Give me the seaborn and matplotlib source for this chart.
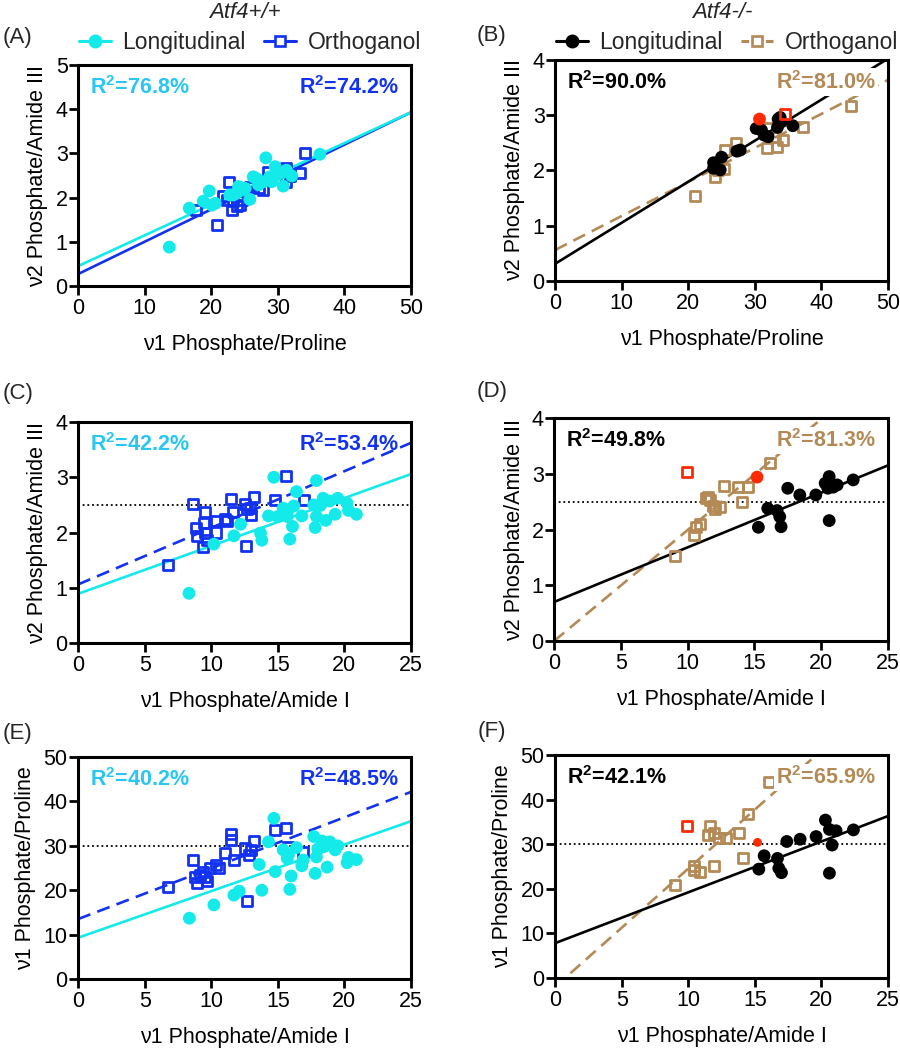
import numpy as np
import matplotlib
matplotlib.use("Agg")
import matplotlib.pyplot as plt
from matplotlib.lines import Line2D
import seaborn as sns

# ── colours ───────────────────────────────────────────────
CYAN = "#14EAEA"
CYAN_TXT = "#28C6F2"
BLUE = "#1232F0"
BROWN = "#B38A56"
RED = "#FF2A00"
BLACK = "#000000"

# ── data: Atf4+/+ ─────────────────────────────────────────
# (A) v1 Phosphate/Proline vs v2 Phosphate/Amide III
a_long_x = [13.7, 16.7, 18.8, 19.7, 20.6, 20.1, 23.3, 24.1, 25.8, 25.1, 26.3, 27.1,
            28.2, 28.8, 29.6, 29.8, 30.8, 31.3, 32.1, 36.3, 22.8, 29.1, 27.8, 23.8,
            26.8, 24.6, 30.5]
a_long_y = [0.88, 1.76, 1.92, 2.15, 1.87, 1.83, 2.06, 2.25, 1.96, 2.21, 2.47, 2.29,
            2.90, 2.47, 2.70, 2.51, 2.26, 2.62, 2.49, 2.98, 2.06, 2.36, 2.36, 2.10,
            2.43, 2.17, 2.55]
a_orth_x = [20.8, 17.7, 22.6, 23.1, 21.8, 22.3, 23.8, 24.6, 24.3, 34.1, 33.4, 31.2,
            28.6, 27.8, 27.1, 31.3, 25.8, 25.3, 23.3, 31.8]
a_orth_y = [1.38, 1.73, 2.35, 1.73, 2.04, 1.95, 1.81, 1.95, 1.83, 3.00, 2.55, 2.66,
            2.59, 2.17, 2.21, 2.36, 2.24, 2.13, 1.92, 2.48]

# (C) v1 Phosphate/Amide I vs v2 Phosphate/Amide III
c_long_x = [8.33, 10.2, 11.7, 12.2, 13.7, 13.8, 14.3, 14.7, 15.0, 15.7, 15.4, 15.9,
            16.1, 16.4, 16.2, 16.8, 17.8, 17.9, 17.9, 17.7, 18.4, 18.6, 18.9, 19.3,
            19.5, 20.2, 20.3, 20.9, 18.2, 15.8]
c_long_y = [0.90, 1.79, 1.94, 2.15, 1.99, 1.86, 2.30, 3.00, 2.29, 2.29, 2.44, 1.88,
            2.11, 2.74, 2.48, 2.30, 2.09, 2.94, 2.29, 2.50, 2.62, 2.22, 2.57, 2.33,
            2.62, 2.53, 2.40, 2.33, 2.49, 2.41]
c_orth_x = [6.78, 8.66, 8.86, 8.90, 9.41, 9.53, 9.48, 9.53, 9.66, 10.36, 10.36, 11.0,
            11.2, 11.5, 11.6, 12.6, 12.5, 12.7, 13.0, 13.2, 12.9, 14.8, 15.6, 17.0]
c_orth_y = [1.41, 2.51, 2.09, 1.93, 1.74, 2.37, 2.17, 1.99, 1.87, 2.21, 2.00, 2.25,
            2.21, 2.60, 2.37, 1.76, 2.51, 2.42, 2.32, 2.65, 2.44, 2.59, 3.02, 2.59]

# (E) v1 Phosphate/Amide I vs v1 Phosphate/Proline
e_long_x = [8.36, 10.2, 11.7, 12.1, 13.6, 13.8, 14.3, 14.7, 14.8, 15.4, 15.7, 15.9,
            16.0, 16.4, 16.8, 16.9, 17.7, 17.8, 17.9, 18.0, 18.3, 18.7, 18.9, 19.3,
            19.5, 20.2, 20.3, 20.9, 15.8, 18.4]
e_long_y = [13.7, 16.7, 18.9, 19.8, 25.8, 20.0, 30.9, 36.2, 24.2, 29.1, 27.2, 20.2,
            23.2, 29.6, 25.5, 26.8, 32.1, 23.8, 27.5, 29.3, 31.1, 25.2, 30.9, 29.1,
            30.0, 26.2, 27.4, 26.9, 28.0, 29.8]
e_orth_x = [6.78, 8.66, 8.78, 8.90, 9.16, 9.41, 9.66, 9.53, 9.91, 10.36, 10.6, 11.0,
            11.5, 11.5, 11.7, 12.5, 12.7, 12.8, 13.2, 13.0, 14.8, 15.6, 15.8, 16.9]
e_orth_y = [20.8, 26.8, 23.0, 21.6, 23.4, 24.2, 22.0, 23.0, 24.9, 25.7, 24.9, 28.3,
            32.7, 31.3, 26.7, 29.4, 17.6, 27.9, 31.1, 29.0, 33.6, 34.0, 29.8, 28.7]

# ── data: Atf4-/- ─────────────────────────────────────────
# (B)
b_long_x = [23.8, 23.8, 24.8, 25.0, 24.0, 27.3, 27.8, 30.2, 31.0, 31.4, 32.0, 33.5,
            33.8, 33.4, 35.7, 34.0]
b_long_y = [2.14, 2.04, 2.01, 2.24, 2.07, 2.35, 2.37, 2.76, 2.73, 2.64, 2.61, 2.93,
            2.96, 2.78, 2.81, 2.88]
b_orth_x = [21.0, 24.0, 25.3, 25.5, 27.2, 32.0, 31.9, 33.3, 34.3, 37.3, 44.4, 33.0, 24.5]
b_orth_y = [1.53, 1.89, 2.03, 2.37, 2.49, 2.76, 2.40, 2.42, 2.55, 2.78, 3.17, 2.61, 2.00]
b_red_long = [30.7, 2.93]
b_red_orth = [34.5, 3.03]

# (D)
d_long_x = [15.3, 16.0, 16.7, 16.9, 17.0, 17.5, 18.4, 19.6, 20.3, 20.6, 20.6, 20.9,
            21.2, 22.4, 20.5]
d_long_y = [2.04, 2.38, 2.34, 2.23, 2.05, 2.74, 2.62, 2.62, 2.83, 2.95, 2.16, 2.76,
            2.80, 2.89, 2.74]
d_orth_x = [9.06, 10.5, 10.6, 10.9, 11.55, 11.7, 11.9, 12.05, 12.4, 12.7, 13.8, 14.1,
            14.5, 16.2, 11.4]
d_orth_y = [1.52, 1.90, 2.05, 2.10, 2.58, 2.53, 2.42, 2.36, 2.40, 2.78, 2.76, 2.50,
            2.77, 3.19, 2.56]
d_red_long = [15.2, 2.94]
d_red_orth = [9.93, 3.04]

# (F)
f_long_x = [15.3, 15.7, 16.7, 16.8, 17.0, 17.4, 18.4, 19.6, 20.3, 20.6, 20.8, 20.6,
            21.1, 22.4]
f_long_y = [24.4, 27.4, 26.8, 24.6, 23.6, 30.6, 31.1, 31.7, 35.4, 33.3, 29.8, 23.5,
            33.0, 33.2]
f_orth_x = [9.0, 10.4, 10.4, 10.9, 11.6, 11.5, 11.9, 12.3, 12.8, 11.9, 13.8, 14.1,
            14.5, 16.1]
f_orth_y = [20.9, 24.2, 25.1, 23.8, 34.1, 32.1, 32.4, 31.3, 31.3, 25.1, 32.4, 26.8,
            36.8, 44.0]
f_red_long = [15.2, 30.4]
f_red_orth = [9.9, 34.1]

# ── fitted lines (intercept, slope) and R² labels ─────────
a_fit = {"long": [0.45, 0.0696], "orth": [0.27, 0.0732]}
b_fit = {"long": [0.31, 0.0743], "orth": [0.56, 0.0616]}
c_fit = {"long": [0.89, 0.0867], "orth": [1.06, 0.1025]}
d_fit = {"long": [0.70, 0.098], "orth": [0.0, 0.199]}
e_fit = {"long": [9.3, 1.05], "orth": [13.5, 1.146]}
f_fit = {"long": [7.8, 1.14], "orth": [-2.0, 2.65]}
R2 = r"R$^{\mathbf{2}}$"
r2_labels = {
    "A": ["76.8%", "74.2%"], "B": ["90.0%", "81.0%"],
    "C": ["42.2%", "53.4%"], "D": ["49.8%", "81.3%"],
    "E": ["40.2%", "48.5%"], "F": ["42.1%", "65.9%"],
}

XLAB_PRO = "ν1 Phosphate/Proline"
XLAB_AMI = "ν1 Phosphate/Amide I"
YLAB_AM3 = "ν2 Phosphate/Amide III"
YLAB_PRO = "ν1 Phosphate/Proline"

FS = 15.5

sns.set_theme(style="ticks")
plt.rcParams["font.family"] = ["Liberation Sans", "DejaVu Sans"]
plt.rcParams.update({
    "mathtext.fontset": "custom",
    "mathtext.rm": "Liberation Sans",
    "mathtext.bf": "Liberation Sans:bold",
    "axes.linewidth": 2.2,
    "axes.edgecolor": "black",
    "xtick.major.width": 2.0,
    "ytick.major.width": 2.0,
    "xtick.major.size": 6.5,
    "ytick.major.size": 6.5,
    "xtick.major.pad": 2,
    "ytick.major.pad": 1,
    "xtick.color": "black",
    "ytick.color": "black",
    "xtick.labelsize": FS,
    "ytick.labelsize": FS,
    "axes.labelsize": FS,
    "axes.labelcolor": "black",
})

fig = plt.figure(figsize=(9, 10.5), dpi=100)
fig.patch.set_facecolor("white")

rects = {
    "A": [0.0867, 0.7276, 0.370, 0.2105],
    "B": [0.6167, 0.7324, 0.370, 0.2105],
    "C": [0.0867, 0.3876, 0.370, 0.2105],
    "D": [0.6156, 0.3895, 0.371, 0.2124],
    "E": [0.0867, 0.0676, 0.370, 0.2114],
    "F": [0.6167, 0.0686, 0.370, 0.2124],
}


def draw_panel(key, long_xy, orth_xy, fits, xmax, ymax, xstep, ystep,
               xlabel, ylabel, ko, ref=None, red_long=None, red_orth=None,
               red_size=85):
    ax = fig.add_axes(rects[key])
    c_long = BLACK if ko else CYAN
    c_orth = BROWN if ko else BLUE
    ls_orth = "-" if key == "A" else (0, (5, 2.8))

    xs = np.array([0, xmax])
    b0, b1 = fits["orth"]
    ax.plot(xs, b0 + b1 * xs, color=c_orth, lw=1.9, linestyle=ls_orth, zorder=2)
    b0, b1 = fits["long"]
    ax.plot(xs, b0 + b1 * xs, color=c_long, lw=1.9, zorder=2)

    if ref is not None:
        ax.axhline(ref, color="black", lw=1.3, linestyle=(0, (1, 1.6)), zorder=1)

    sns.scatterplot(x=orth_xy[0], y=orth_xy[1], marker="s", s=52,
                    facecolor="none", edgecolor=c_orth, linewidth=2.0,
                    ax=ax, zorder=3)
    sns.scatterplot(x=long_xy[0], y=long_xy[1], marker="o", s=85,
                    color=c_long, edgecolor="none", ax=ax, zorder=4)
    if red_orth is not None:
        sns.scatterplot(x=[red_orth[0]], y=[red_orth[1]], marker="s", s=52,
                        facecolor="none", edgecolor=RED, linewidth=2.0,
                        ax=ax, zorder=4)
    if red_long is not None:
        sns.scatterplot(x=[red_long[0]], y=[red_long[1]], marker="o", s=red_size,
                        color=RED, edgecolor="none", ax=ax, zorder=4)

    ax.set_xlim(0, xmax)
    ax.set_ylim(0, ymax)
    ax.set_xticks(np.arange(0, xmax + 0.01, xstep))
    ax.set_yticks(np.arange(0, ymax + 0.01, ystep))
    ax.set_xlabel(xlabel, labelpad=11)
    ax.set_ylabel(ylabel, labelpad=5)
    for sp in ax.spines.values():
        sp.set_visible(True)
        sp.set_linewidth(2.2)

    lt, rt = r2_labels[key]
    ax.text(0.036, 0.90, R2 + "=" + lt, transform=ax.transAxes, ha="left",
            va="center", fontsize=FS, fontweight="bold",
            color=BLACK if ko else CYAN_TXT, zorder=6)
    bbox = dict(facecolor="white", edgecolor="none", pad=1.5) if ko else None
    ax.text(0.962, 0.90, R2 + "=" + rt, transform=ax.transAxes, ha="right",
            va="center", fontsize=FS, fontweight="bold", color=c_orth,
            bbox=bbox, zorder=6)
    return ax


draw_panel("A", (a_long_x, a_long_y), (a_orth_x, a_orth_y), a_fit, 50, 5, 10, 1,
           XLAB_PRO, YLAB_AM3, ko=False)
draw_panel("B", (b_long_x, b_long_y), (b_orth_x, b_orth_y), b_fit, 50, 4, 10, 1,
           XLAB_PRO, YLAB_AM3, ko=True, red_long=b_red_long, red_orth=b_red_orth)
draw_panel("C", (c_long_x, c_long_y), (c_orth_x, c_orth_y), c_fit, 25, 4, 5, 1,
           XLAB_AMI, YLAB_AM3, ko=False, ref=2.5)
draw_panel("D", (d_long_x, d_long_y), (d_orth_x, d_orth_y), d_fit, 25, 4, 5, 1,
           XLAB_AMI, YLAB_AM3, ko=True, ref=2.5,
           red_long=d_red_long, red_orth=d_red_orth)
draw_panel("E", (e_long_x, e_long_y), (e_orth_x, e_orth_y), e_fit, 25, 50, 5, 10,
           XLAB_AMI, YLAB_PRO, ko=False, ref=30)
draw_panel("F", (f_long_x, f_long_y), (f_orth_x, f_orth_y), f_fit, 25, 50, 5, 10,
           XLAB_AMI, YLAB_PRO, ko=True, ref=30,
           red_long=f_red_long, red_orth=f_red_orth, red_size=40)

# ── titles, panel letters, legends ────────────────────────
fig.text(245 / 900, 1 - 12 / 1050, "Atf4+/+", ha="center", va="center",
         fontsize=16, style="italic")
fig.text(722 / 900, 1 - 12 / 1050, "Atf4-/-", ha="center", va="center",
         fontsize=16, style="italic")

for lab, (px, py) in {"(A)": (17, 38), "(B)": (492, 36), "(C)": (18, 393),
                      "(D)": (492, 391), "(E)": (18, 733), "(F)": (492, 732)}.items():
    fig.text(px / 900, 1 - py / 1050, lab, ha="center", va="center", fontsize=16)


def legend_handles(c_long, c_orth, dashed):
    h1 = Line2D([], [], color=c_long, lw=2.2, marker="o", markersize=9,
                markeredgecolor=c_long)
    h2 = Line2D([], [], color=c_orth, lw=2.2, marker="s", markersize=6.5,
                markerfacecolor="white", markeredgecolor=c_orth,
                markeredgewidth=1.9, linestyle=(0, (2.5, 1.5)) if dashed else "-")
    return [h1, h2]


for cx, cl, co, dashed in [(250, CYAN, BLUE, False), (727, BLACK, BROWN, True)]:
    fig.legend(legend_handles(cl, co, dashed), ["Longitudinal", "Orthoganol"],
               loc="center", bbox_to_anchor=(cx / 900, 1 - 43 / 1050), ncol=2,
               frameon=False, fontsize=16.5, handlelength=1.4, handletextpad=0.5,
               columnspacing=0.8, borderaxespad=0)

fig.savefig("out.png", dpi=100, facecolor="white")
